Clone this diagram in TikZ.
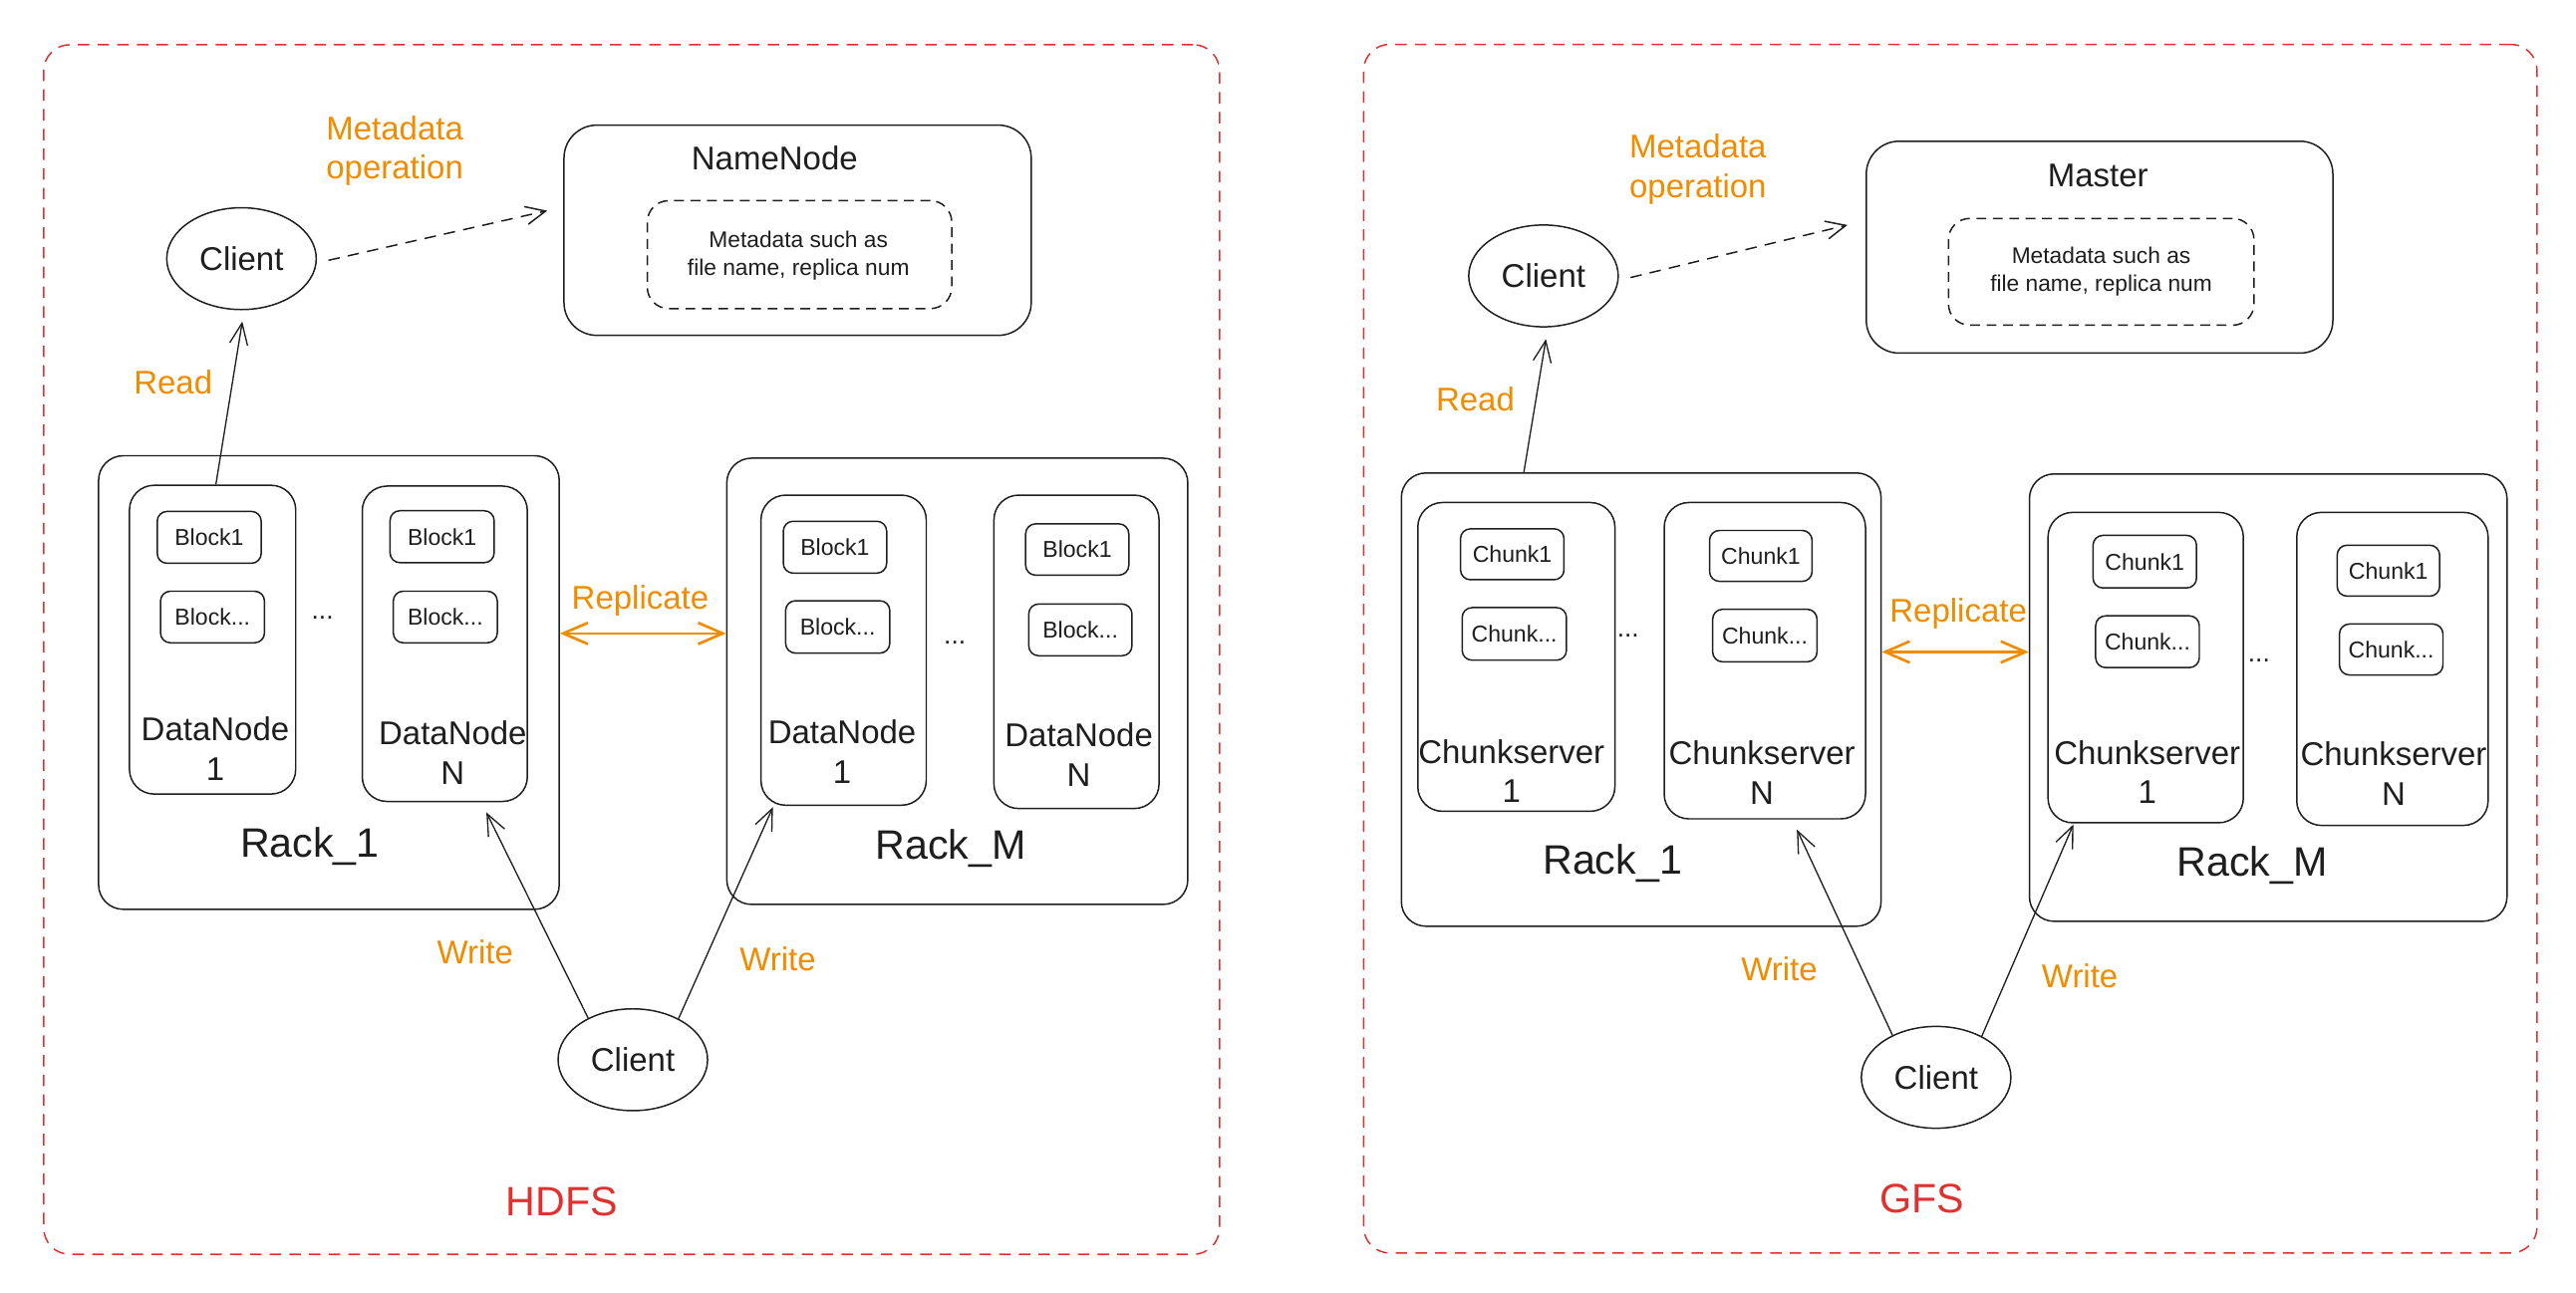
\documentclass[tikz,border=0pt]{standalone}
\usepackage{fontspec}
\setmainfont{Liberation Sans}
\usetikzlibrary{arrows.meta,shapes.geometric,fit,calc}
\definecolor{ink}{HTML}{1E1E1E}
\definecolor{orng}{HTML}{F08C00}
\definecolor{redd}{HTML}{E03131}
\begin{document}
\begin{tikzpicture}[x=1pt,y=-1pt,
  outerbox/.style={draw=redd, line width=0.9pt, dash pattern=on 7pt off 5pt, rounded corners=16pt, inner sep=0pt},
  rackbox/.style={draw=ink, line width=0.9pt, rounded corners=15pt, inner sep=0pt},
  srvbox/.style={draw=ink, line width=0.9pt, rounded corners=15pt, inner sep=0pt},
  blkbox/.style={draw=ink, line width=0.9pt, rounded corners=6pt, inner sep=0pt},
  blktxt/.style={font=\fontsize{14}{16}\selectfont, text=ink, inner sep=0pt},
  mainbox/.style={draw=ink, line width=0.9pt, rounded corners=20pt, inner sep=0pt},
  dbox/.style={draw=ink, line width=0.9pt, dash pattern=on 6pt off 4pt, rounded corners=13pt, inner sep=0pt},
  client/.style={draw=ink, line width=0.9pt, ellipse, inner sep=0pt, minimum width=91pt, minimum height=62pt, font=\fontsize{20}{24}\selectfont, text=ink},
  lbl/.style={font=\fontsize{20}{24}\selectfont, text=ink, align=center, inner sep=0pt},
  big/.style={font=\fontsize{25}{30}\selectfont, text=ink, inner sep=0pt},
  olbl/.style={font=\fontsize{20}{24}\selectfont, text=orng, align=center, inner sep=0pt},
  small/.style={font=\fontsize{13.8}{17}\selectfont, text=ink, align=center, inner sep=0pt},
  ttl/.style={font=\fontsize{25}{30}\selectfont, text=redd, inner sep=0pt},
  dots/.style={font=\fontsize{16}{18}\selectfont, text=ink, inner sep=0pt, anchor=base},
  arr/.style={draw=ink, line width=0.8pt, -{Straight Barb[length=13pt,width=11pt]}},
  darr/.style={draw=ink, line width=0.9pt, dash pattern=on 7pt off 5pt, -{Straight Barb[length=12pt,width=11pt]}},
  rep/.style={draw=orng, line width=1.6pt, {Straight Barb[length=15pt,width=13pt]}-{Straight Barb[length=15pt,width=13pt]}}
]
\fill[white] (0,0) rectangle (1568,787);
\useasboundingbox (0,0) rectangle (1568,787);

% ================= HDFS =================
\node[outerbox, fit={(26.6,27.2)(742.3,763.8)}] (hdfs) {};
\node[ttl] (hdfst) at (342,732) {HDFS};

\node[client] (hc1) at (147,157.5) {Client};
\node[olbl] (hmo) at (240.3,92) {Metadata\\operation};
\node[mainbox, fit={(343.3,76.2)(627.7,204.2)}] (nn) {};
\node[lbl] (nnt) at (471.5,96.3) {NameNode};
\node[dbox, fit={(394,122.2)(579.3,187.9)}] (nnm) {};
\node[small] (nnmt) at (486,155.5) {Metadata such as\\file name, replica num};

% Rack_1
\node[rackbox, fit={(60,277.5)(340.4,553.7)}] (hr1) {};
\node[big] (hr1t) at (188.6,515.2) {Rack\_1};
\node[srvbox, fit={(78.8,295.5)(180,483.5)}] (hdn1) {};
\node[blkbox, fit={(95.7,311.4)(159,343)}] (hb11) {};
\node[blktxt] (hb11t) at (hb11.center) {Block1};
\node[blkbox, fit={(97.7,360)(161,391.4)}] (hb12) {};
\node[blktxt] (hb12t) at (hb12.center) {Block...};
\node[lbl] (hdn1t) at (131,456) {DataNode\\1};
\node[dots] (hd1) at (196.3,377) {...};
\node[srvbox, fit={(220.5,296)(321,488)}] (hdnN) {};
\node[blkbox, fit={(237.4,311)(300.8,342.6)}] (hb21) {};
\node[blktxt] (hb21t) at (hb21.center) {Block1};
\node[blkbox, fit={(239.4,360)(302.7,391.4)}] (hb22) {};
\node[blktxt] (hb22t) at (hb22.center) {Block...};
\node[lbl] (hdnNt) at (275.6,458.4) {DataNode\\N};

% Rack_M
\node[rackbox, fit={(442.4,279)(723,550.7)}] (hrm) {};
\node[big] (hrmt) at (578.8,516.8) {Rack\_M};
\node[srvbox, fit={(463.2,301.5)(563.8,490.3)}] (hdn1m) {};
\node[blkbox, fit={(476.8,317.4)(539.7,349)}] (hb31) {};
\node[blktxt] (hb31t) at (hb31.center) {Block1};
\node[blkbox, fit={(478.2,365.8)(541.6,397.7)}] (hb32) {};
\node[blktxt] (hb32t) at (hb32.center) {Block...};
\node[lbl] (hdn1mt) at (512.6,457.7) {DataNode\\1};
\node[dots] (hd2) at (581.2,392) {...};
\node[srvbox, fit={(605,301.5)(705.5,492.3)}] (hdnNm) {};
\node[blkbox, fit={(624.3,319)(687.1,350.2)}] (hb41) {};
\node[blktxt] (hb41t) at (hb41.center) {Block1};
\node[blkbox, fit={(626.2,367.8)(689,399.3)}] (hb42) {};
\node[blktxt] (hb42t) at (hb42.center) {Block...};
\node[lbl] (hdnNmt) at (656.7,459.4) {DataNode\\N};

\node[client] (hc2) at (385.2,645.3) {Client};

% HDFS connectors
\draw[darr] ($(hc1.east)+(7,1)$) -- ($(nn.west)+(-9.7,-11.9)$);
\draw[arr] ($(hdn1.north)+(2,0)$) -- ($(hc1.south)+(0.5,6.8)$);
\node[olbl] (hread) at (105.4,233) {Read};
\coordinate (hrepy) at (0,385.7);
\draw[rep] (hr1.east |- hrepy) -- (hrm.west |- hrepy);
\node[olbl] (hrept) at (389.7,365.5) {Replicate};
\draw[arr] (hc2.137) -- ($(hdnN.south)+(25.3,6.2)$);
\draw[arr] (hc2.42) -- ($(hdn1m.south)+(-43,0.7)$);
\node[olbl] (hw1) at (289.2,580) {Write};
\node[olbl] (hw2) at (473.4,584) {Write};

% ================= GFS =================
\node[outerbox, fit={(830,27)(1544.3,763)}] (gfs) {};
\node[ttl] (gfst) at (1170,729.7) {GFS};

\node[client] (gc1) at (939.5,168) {Client};
\node[olbl] (gmo) at (1033.5,103) {Metadata\\operation};
\node[mainbox, fit={(1136,86)(1420,215)}] (ms) {};
\node[lbl] (mst) at (1277,107) {Master};
\node[dbox, fit={(1186,133)(1372,198)}] (msm) {};
\node[small] (msmt) at (1279,165.5) {Metadata such as\\file name, replica num};

% Rack_1
\node[rackbox, fit={(853,288)(1145,564)}] (gr1) {};
\node[big] (gr1t) at (981.5,525.5) {Rack\_1};
\node[srvbox, fit={(863,306)(983,494)}] (gcs1) {};
\node[blkbox, fit={(889,322)(952,353)}] (gk11) {};
\node[blktxt] (gk11t) at (gk11.center) {Chunk1};
\node[blkbox, fit={(890,370)(953.5,402)}] (gk12) {};
\node[blktxt] (gk12t) at (gk12.center) {Chunk...};
\node[lbl] (gcs1t) at (920,469.5) {Chunkserver\\1};
\node[dots] (gd1) at (991,388) {...};
\node[srvbox, fit={(1013,306)(1135.5,498.6)}] (gcsN) {};
\node[blkbox, fit={(1040.6,323)(1103,354)}] (gk21) {};
\node[blktxt] (gk21t) at (gk21.center) {Chunk1};
\node[blkbox, fit={(1042.5,371)(1106,403)}] (gk22) {};
\node[blktxt] (gk22t) at (gk22.center) {Chunk...};
\node[lbl] (gcsNt) at (1072.5,470.5) {Chunkserver\\N};

% Rack_M
\node[rackbox, fit={(1235.3,288.6)(1526,561)}] (grm) {};
\node[big] (grmt) at (1371,527) {Rack\_M};
\node[srvbox, fit={(1246.6,312)(1365.5,501)}] (gcs1m) {};
\node[blkbox, fit={(1274,326)(1337,358)}] (gk31) {};
\node[blktxt] (gk31t) at (gk31.center) {Chunk1};
\node[blkbox, fit={(1275.6,375)(1338.7,406.5)}] (gk32) {};
\node[blktxt] (gk32t) at (gk32.center) {Chunk...};
\node[lbl] (gcs1mt) at (1307,470) {Chunkserver\\1};
\node[dots] (gd2) at (1375,403) {...};
\node[srvbox, fit={(1398,312)(1514.5,502.6)}] (gcsNm) {};
\node[blkbox, fit={(1422.6,332)(1485,363)}] (gk41) {};
\node[blktxt] (gk41t) at (gk41.center) {Chunk1};
\node[blkbox, fit={(1424,380)(1487,411)}] (gk42) {};
\node[blktxt] (gk42t) at (gk42.center) {Chunk...};
\node[lbl] (gcsNmt) at (1457,471) {Chunkserver\\N};

\node[client] (gc2) at (1178.5,656) {Client};

% GFS connectors
\draw[darr] ($(gc1.east)+(7,1)$) -- ($(ms.west)+(-11,-13.5)$);
\draw[arr] ($(gr1.north west)+(75,0)$) -- ($(gc1.south)+(1.5,7)$);
\node[olbl] (gread) at (898,243) {Read};
\coordinate (grepy) at (0,397);
\draw[rep] (gr1.east |- grepy) -- (grm.west |- grepy);
\node[olbl] (grept) at (1192,373.7) {Replicate};
\draw[arr] (gc2.136) -- ($(gcsN.south)+(19.5,6.1)$);
\draw[arr] (gc2.42) -- ($(gcs1m.south)+(-44,0.6)$);
\node[olbl] (gw1) at (1083,590) {Write};
\node[olbl] (gw2) at (1266,594.5) {Write};
\end{tikzpicture}
\end{document}
